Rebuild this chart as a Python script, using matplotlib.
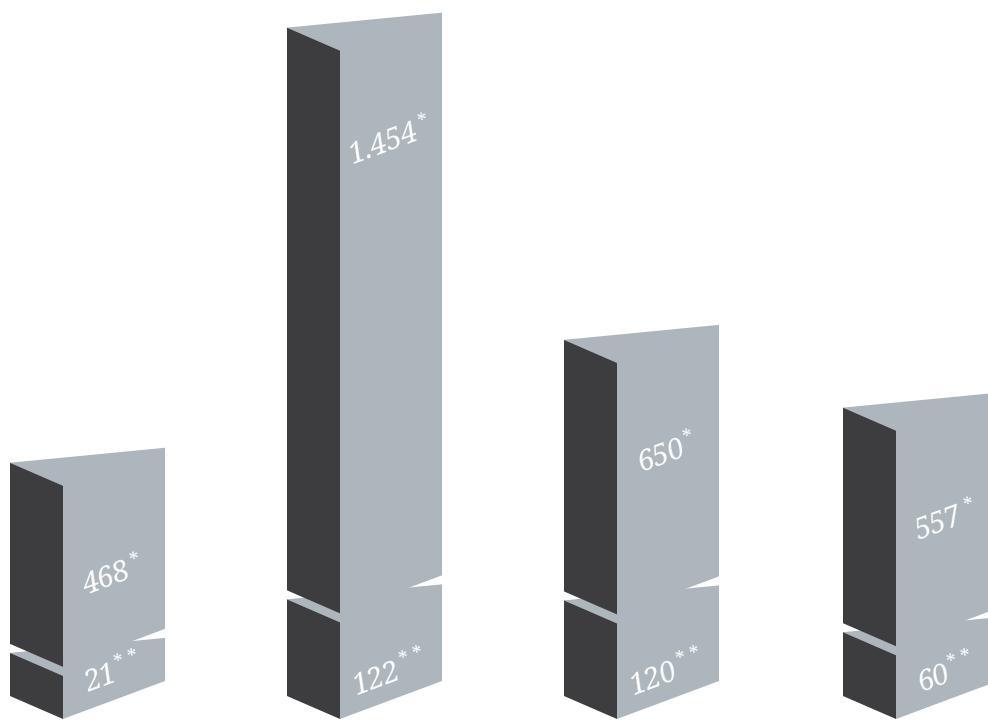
import math
import matplotlib
matplotlib.use("Agg")
import matplotlib.pyplot as plt
from matplotlib.patches import Polygon
from matplotlib.textpath import TextPath
from matplotlib.font_manager import FontProperties

# values: main block (*) and the smaller base block (**)
upper_values = [468, 1454, 650, 557]
lower_values = [21, 122, 120, 60]
upper_labels = ["468", "1.454", "650", "557"]
lower_labels = ["21", "122", "120", "60"]

DARK = "#3d3d3f"
LIGHT = "#adb6bc"

W, H = 988, 722
fig = plt.figure(figsize=(W / 100, H / 100), dpi=100)
ax = fig.add_axes([0, 0, 1, 1])
ax.set_xlim(0, W)
ax.set_ylim(0, H)
ax.axis("off")

# prism geometry (axes units = pixels)
X0 = [10, 287, 564, 843]
SIDE_W = 53
FRONT_W = 102
DROP = 23      # side face top edge falls this much towards the fold
RISE = 38      # front face top edge climbs this much towards the right
BASE = 26
GAP = 9
UP_SCALE = 0.387
LOW_SCALE = 0.53
LOW_MIN = 32
ANGLE = math.atan2(RISE, FRONT_W)

NUM_FS = 21
STAR_FS = 14
FAMILY = "Noto Serif"
FONT = FontProperties(family=FAMILY, style="italic")
TEXT_PROP = dict(family=FAMILY, style="italic", color="white")
PT = 100 / 72  # pixels per point


def text_width_px(s, size_pt):
    tp = TextPath((0, 0), s, size=size_pt, prop=FONT)
    return tp.get_extents().width * PT


def prism(x0, y_bottom, h, z):
    x1 = x0 + SIDE_W
    x2 = x1 + FRONT_W
    top = y_bottom + h
    A, B, C = (x0, top), (x1, top - DROP), (x2, top - DROP + RISE)
    A2, B2, C2 = (x0, y_bottom), (x1, y_bottom - DROP), (x2, y_bottom - DROP + RISE)
    ax.add_patch(Polygon([A, C, C2, B2, B], closed=True, facecolor=LIGHT,
                         edgecolor="none", zorder=z))
    ax.add_patch(Polygon([A, B, B2, A2], closed=True, facecolor=DARK,
                         edgecolor="none", zorder=z + 0.5))
    return top


def label(cx, cy, num, stars, z):
    ux, uy = math.cos(ANGLE), math.sin(ANGLE)
    nx, ny = -uy, ux
    w_num = text_width_px(num, NUM_FS)
    w_star = text_width_px(stars, STAR_FS)
    gap = 4
    total = w_num + gap + w_star
    digit_h = 0.714 * NUM_FS * PT
    sx = cx - ux * total / 2 - nx * digit_h / 2
    sy = cy - uy * total / 2 - ny * digit_h / 2
    deg = math.degrees(ANGLE)
    ax.text(sx, sy, num, fontsize=NUM_FS, rotation=deg, rotation_mode="anchor",
            ha="left", va="baseline", zorder=z, **TEXT_PROP)
    raise_px = 0.36 * NUM_FS * PT
    px = sx + ux * (w_num + gap) + nx * raise_px
    py = sy + uy * (w_num + gap) + ny * raise_px
    ax.text(px, py, stars, fontsize=STAR_FS, rotation=deg, rotation_mode="anchor",
            ha="left", va="baseline", zorder=z, **TEXT_PROP)


for i, x0 in enumerate(X0):
    h_low = LOW_MIN + LOW_SCALE * lower_values[i]
    h_up = UP_SCALE * upper_values[i]
    z = 2 + i * 4
    low_top = prism(x0, BASE, h_low, z)
    up_bottom = low_top + GAP
    up_top = prism(x0, up_bottom, h_up, z + 1)

    xc = x0 + SIDE_W + FRONT_W / 2 - 3
    # front-face edge height at the label's centre line
    front_top = up_top - DROP + RISE / 2
    front_bottom = BASE - DROP + RISE / 2
    label(xc, front_top - 108, upper_labels[i], "*", z + 3)
    label(xc, front_bottom + 28, lower_labels[i], "* *", z + 3)

fig.savefig("out.png", dpi=100)
